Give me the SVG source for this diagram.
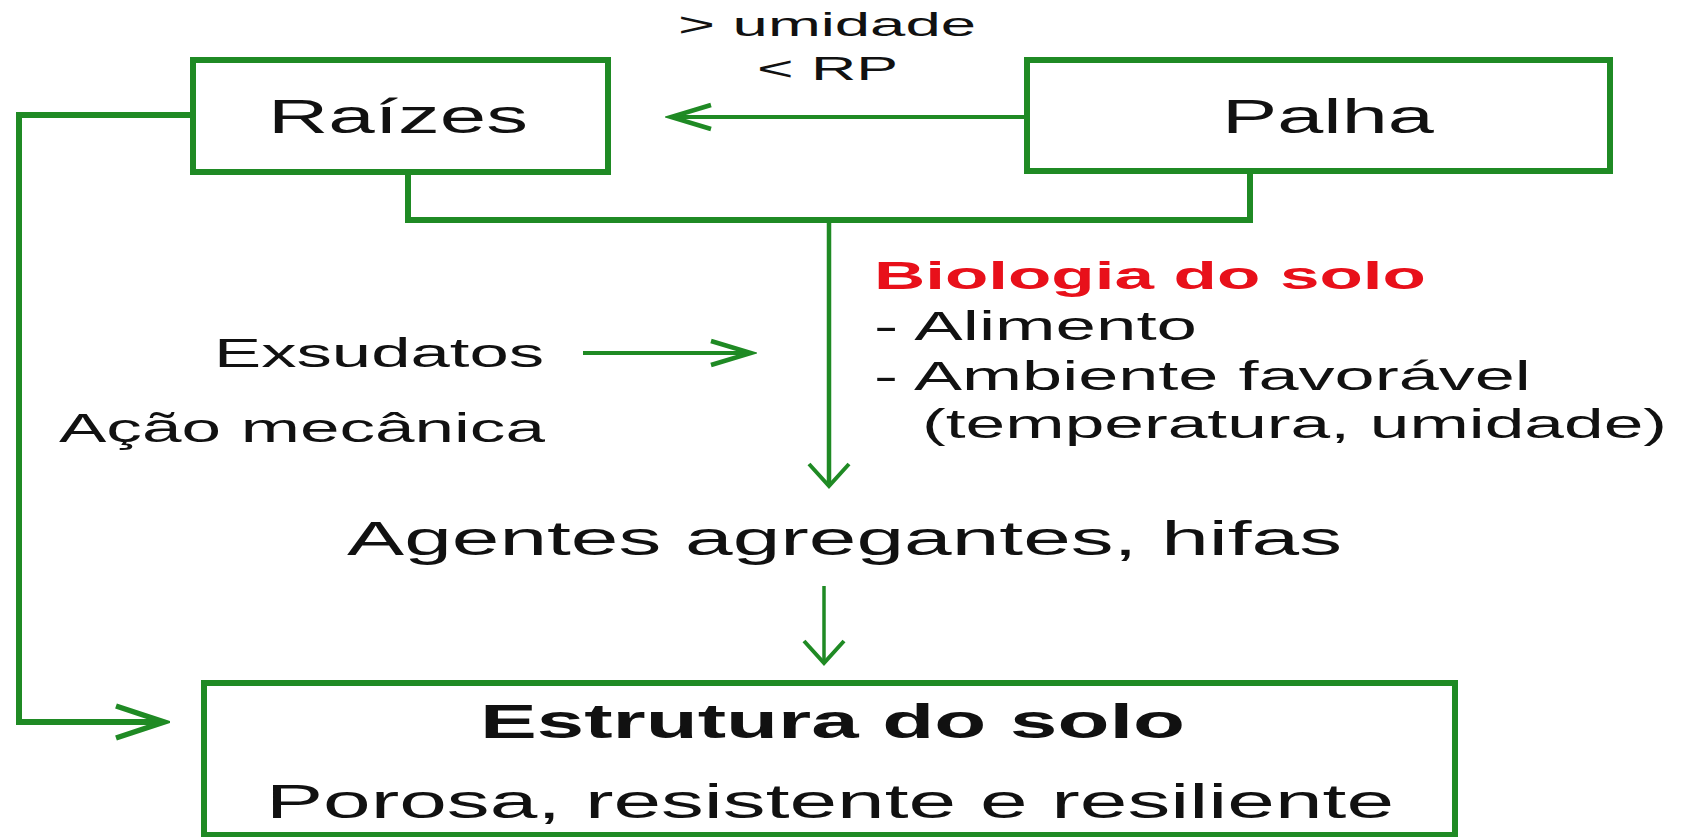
<svg xmlns="http://www.w3.org/2000/svg" width="1681" height="837" viewBox="0 0 1681 837">
<defs>
<style>
.box{fill:#fff;stroke:#1f8a24;stroke-width:6}
.con{fill:none;stroke:#1f8a24;stroke-linejoin:miter;stroke-linecap:butt}
.t{font-family:"Liberation Sans",Arial,sans-serif;fill:#111}
.b{font-weight:bold}
.red{fill:#e8101a}
</style>
<marker id="ah-h" markerUnits="userSpaceOnUse" viewBox="-50 -20 56 40" refX="0" refY="0" markerWidth="56" markerHeight="40" orient="auto">
<path d="M-40,-12 L0,0 L-40,12" fill="none" stroke="#1f8a24" stroke-width="4.5"/>
</marker>
<marker id="ah-big" markerUnits="userSpaceOnUse" viewBox="-56 -24 62 48" refX="0" refY="0" markerWidth="62" markerHeight="48" orient="auto">
<path d="M-48,-16 L0,0 L-48,16" fill="none" stroke="#1f8a24" stroke-width="5.5"/>
</marker>
<marker id="ah-v" markerUnits="userSpaceOnUse" viewBox="-30 -26 36 52" refX="0" refY="0" markerWidth="36" markerHeight="52" orient="auto">
<path d="M-22,-20 L0,0 L-22,20" fill="none" stroke="#1f8a24" stroke-width="4"/>
</marker>
</defs>
<rect width="1681" height="837" fill="#fff"/>
<g id="connectors">
<path class="con" d="M408,172 V220 H1250 V171" stroke-width="6"/>
<path class="con" d="M193,115 H19 V722 H164" stroke-width="6" marker-end="url(#ah-big)"/>
<path class="con" d="M1027,117 H671" stroke-width="4" marker-end="url(#ah-h)"/>
<path class="con" d="M829,220 V486" stroke-width="4.5" marker-end="url(#ah-v)"/>
<path class="con" d="M583,353 H751" stroke-width="4" marker-end="url(#ah-h)"/>
<path class="con" d="M824,586 V663" stroke-width="3.5" marker-end="url(#ah-v)"/>
<text class="t" transform="scale(1.75,1)" x="387.4" y="36" font-size="34" textLength="170.3" lengthAdjust="spacingAndGlyphs">&gt; umidade</text>
<text class="t" transform="scale(1.75,1)" x="432.6" y="80" font-size="34" textLength="80.6" lengthAdjust="spacingAndGlyphs">&lt; RP</text>
<text class="t" transform="scale(1.75,1)" x="122.3" y="367" font-size="40" textLength="188.6" lengthAdjust="spacingAndGlyphs">Exsudatos</text>
</g>
<g id="raizes">
<rect class="box" x="193" y="60" width="415" height="112"/>
<text class="t" transform="scale(1.75,1)" x="153.1" y="133" font-size="49" textLength="148.6" lengthAdjust="spacingAndGlyphs">Raízes</text>
</g>
<g id="palha">
<rect class="box" x="1027" y="60" width="583" height="111"/>
<text class="t" transform="scale(1.75,1)" x="698.3" y="133" font-size="49" textLength="121.1" lengthAdjust="spacingAndGlyphs">Palha</text>
</g>
<g id="biologia">
<text class="t b red" transform="scale(1.75,1)" x="499.4" y="289" font-size="39" textLength="315.4" lengthAdjust="spacingAndGlyphs">Biologia do solo</text>
<text class="t" transform="scale(1.75,1)" x="499.4" y="340" font-size="40" textLength="184.6" lengthAdjust="spacingAndGlyphs">- Alimento</text>
<text class="t" transform="scale(1.75,1)" x="499.4" y="390" font-size="40" textLength="375.4" lengthAdjust="spacingAndGlyphs">- Ambiente favorável</text>
<text class="t" transform="scale(1.75,1)" x="526.9" y="438" font-size="40" textLength="425.7" lengthAdjust="spacingAndGlyphs">(temperatura, umidade)</text>
</g>
<g id="acao">
<text class="t" transform="scale(1.75,1)" x="33.7" y="442" font-size="40" textLength="277.7" lengthAdjust="spacingAndGlyphs">Ação mecânica</text>
</g>
<g id="agentes">
<text class="t" transform="scale(1.75,1)" x="198.3" y="555" font-size="49" textLength="568.6" lengthAdjust="spacingAndGlyphs">Agentes agregantes, hifas</text>
</g>
<g id="estrutura">
<rect class="box" x="204" y="683" width="1251" height="152"/>
<text class="t b" transform="scale(1.75,1)" x="274.3" y="738" font-size="49" textLength="402.9" lengthAdjust="spacingAndGlyphs">Estrutura do solo</text>
<text class="t" transform="scale(1.75,1)" x="152" y="818" font-size="49" textLength="644.6" lengthAdjust="spacingAndGlyphs">Porosa, resistente e resiliente</text>
</g>
</svg>
